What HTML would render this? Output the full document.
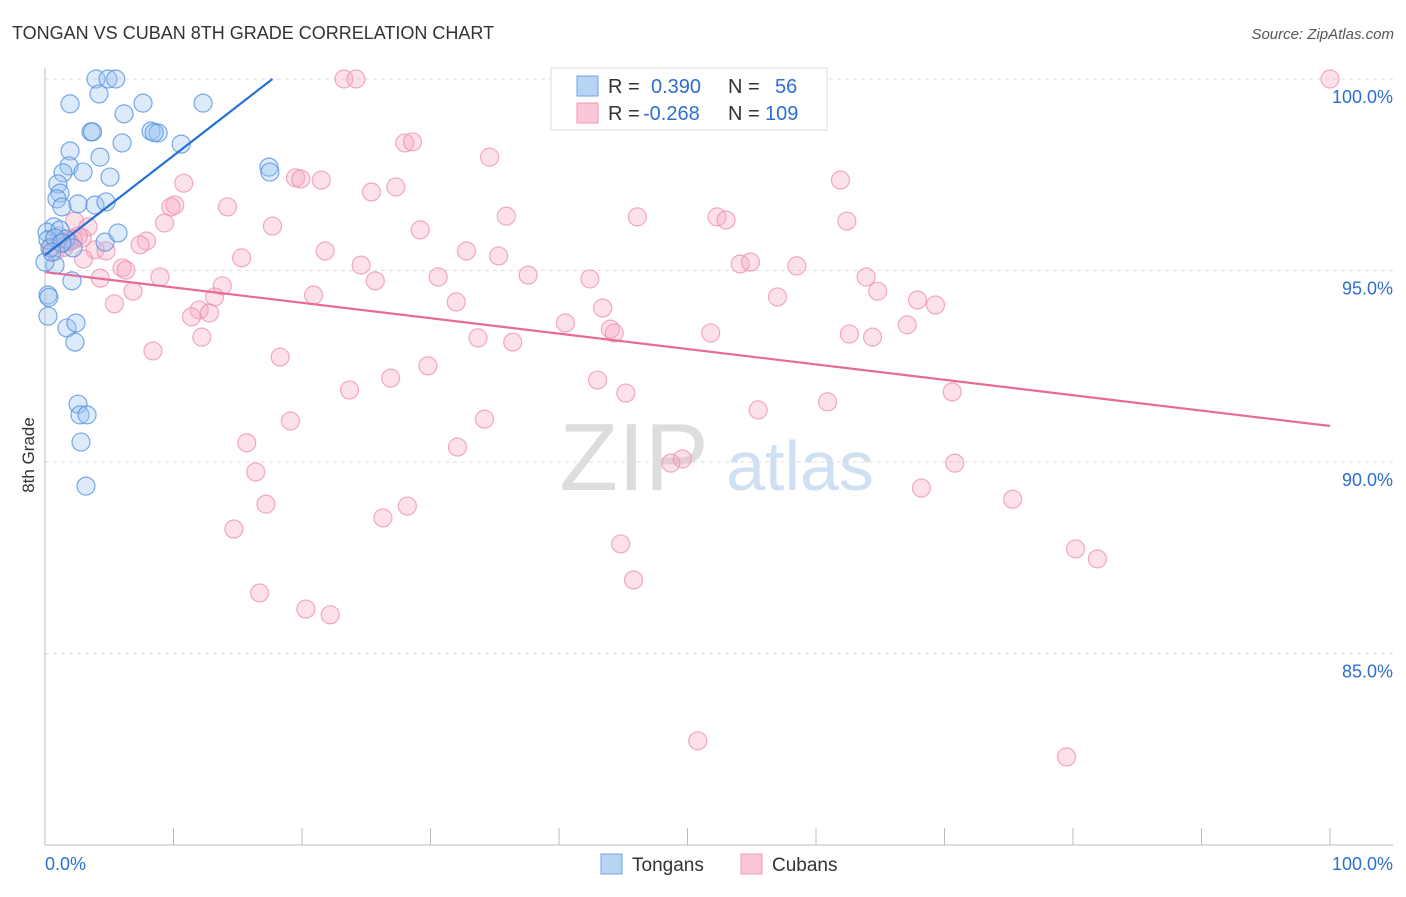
<!DOCTYPE html>
<html><head><meta charset="utf-8"><style>
body{margin:0;background:#fff;font-family:"Liberation Sans",sans-serif;}
svg text{font-family:"Liberation Sans",sans-serif;}
</style></head><body>
<svg id="chart" width="1406" height="892">
<text x="12" y="39" font-size="18" fill="#333">TONGAN VS CUBAN 8TH GRADE CORRELATION CHART</text>
<text x="1394" y="39" font-size="15" fill="#555" text-anchor="end" font-style="italic">Source: ZipAtlas.com</text>
<text x="634" y="490" font-size="96" fill="#ddd" font-family="Liberation Serif" text-anchor="middle">ZIP</text>
<text x="800" y="490" font-size="70" fill="#cfe0f3" text-anchor="middle">atlas</text>
<g id="grid"></g><g id="axes"></g><g id="pts"></g><g id="lines"></g>
<text transform="translate(34,455) rotate(-90)" font-size="17" fill="#333" text-anchor="middle">8th Grade</text>
<g>
<rect x="551" y="68" width="276" height="62" fill="#fff" stroke="#ddd"/>
<rect x="577" y="76" width="21" height="20" fill="#b8d4f5" stroke="#6fa3e0"/>
<rect x="577" y="103" width="21" height="20" fill="#fcc6d6" stroke="#ee9ab4"/>
<text x="608" y="93" font-size="20" fill="#333">R = </text><text x="651" y="93" font-size="20" fill="#2d6fcf">0.390</text>
<text x="728" y="93" font-size="20" fill="#333">N = </text><text x="775" y="93" font-size="20" fill="#2d6fcf">56</text>
<text x="608" y="120" font-size="20" fill="#333">R = </text><text x="643" y="120" font-size="20" fill="#2d6fcf">-0.268</text>
<text x="728" y="120" font-size="20" fill="#333">N = </text><text x="765" y="120" font-size="20" fill="#2d6fcf">109</text>
</g>
<g>
<rect x="601" y="854" width="21" height="20" fill="#b8d4f5" stroke="#6fa3e0"/>
<text x="632" y="871" font-size="19" fill="#333">Tongans</text>
<rect x="741" y="854" width="21" height="20" fill="#fcc6d6" stroke="#ee9ab4"/>
<text x="772" y="871" font-size="19" fill="#333">Cubans</text>
</g>
</svg>
<script>
const yTicks=[100,95,90,85];
const yTickLabels=["100.0%","95.0%","90.0%","85.0%"];
const xTickLabels=["0.0%","100.0%"];
const tonganX=[3.97,4.9,5.5,4.2,1.95,7.63,12.3,6.15,3.58,8.25,8.8,6.0,10.6,1.95,4.28,1.87,2.96,1.4,5.06,17.43,17.5,1.0,1.17,0.93,1.32,2.57,3.89,4.75,0.7,0.16,1.17,0.23,1.63,4.67,5.68,2.18,0.39,0.78,2.1,0.23,0.23,1.71,2.41,2.33,2.57,2.72,3.27,2.8,3.19,0.78,1.32,0,0.54,3.7,8.5,0.3];
const tonganY=[100,100,100,99.61,99.35,99.37,99.37,99.09,98.62,98.64,98.59,98.33,98.3,98.12,97.96,97.73,97.57,97.55,97.44,97.7,97.57,97.26,97.02,96.87,96.66,96.74,96.71,96.79,96.14,96.0,96.06,95.8,95.82,95.74,95.98,95.59,95.59,95.14,94.73,94.36,93.81,93.5,93.63,93.13,91.51,91.23,91.23,90.52,89.37,95.85,95.72,95.22,95.48,98.62,98.6,94.3];
const cubanX=[100,23.27,24.2,28.0,28.6,34.6,10.8,19.5,19.9,21.5,25.4,27.3,61.9,10.1,9.8,14.2,9.3,17.7,29.2,35.9,46.1,52.3,53.0,62.4,2.3,3.35,1.1,1.8,2.9,7.9,7.4,3.9,4.75,21.8,32.8,35.3,15.3,24.6,54.1,54.9,58.5,6.0,6.3,8.95,25.7,30.6,37.6,42.4,63.9,4.3,6.85,13.8,13.2,20.9,32.0,43.4,57.0,64.8,67.9,69.3,5.4,12.0,11.4,12.8,40.5,44.0,44.3,67.1,12.2,33.7,36.4,51.8,62.6,64.4,8.4,18.3,29.8,26.9,43.0,23.7,45.2,70.6,60.9,55.5,19.1,34.2,15.7,32.1,48.7,49.6,70.8,16.4,68.2,75.3,17.2,28.2,26.3,14.7,44.8,80.2,81.9,45.8,16.7,20.3,22.2,50.8,79.5,1.5,2.6,0.8,1.3,3.0,2.2,0.5,1.9];
const cubanY=[100,100,100,98.33,98.36,97.96,97.28,97.42,97.39,97.36,97.05,97.18,97.36,96.71,96.66,96.66,96.24,96.16,96.06,96.42,96.4,96.4,96.32,96.29,96.29,96.14,95.9,95.77,95.85,95.77,95.67,95.54,95.51,95.51,95.51,95.38,95.33,95.14,95.17,95.22,95.12,95.07,95.01,94.83,94.73,94.83,94.88,94.78,94.83,94.8,94.46,94.6,94.31,94.36,94.18,94.02,94.31,94.46,94.23,94.1,94.13,93.97,93.79,93.89,93.63,93.47,93.37,93.58,93.26,93.24,93.13,93.37,93.34,93.26,92.9,92.74,92.51,92.19,92.14,91.88,91.8,91.83,91.57,91.36,91.07,91.12,90.5,90.39,89.97,90.08,89.97,89.74,89.32,89.03,88.9,88.85,88.54,88.25,87.86,87.73,87.47,86.92,86.58,86.16,86.01,82.72,82.3,95.6,95.9,95.5,95.7,95.3,95.8,95.6,95.75];
const tonganTrend=[[0,95.4],[17.7,100]];
const cubanTrend=[[0,94.96],[100,90.94]];
const X=v=>45+v*12.85, Y=v=>79+(100-v)*38.3;
const NS="http://www.w3.org/2000/svg";
function mk(t,a,p){const e=document.createElementNS(NS,t);for(const k in a)e.setAttribute(k,a[k]);document.getElementById(p).appendChild(e);return e;}
yTicks.forEach((t,i)=>{
 const g=mk('line',{x1:45,x2:1393,y1:Y(t),y2:Y(t),stroke:'#ddd','stroke-dasharray':'4,4'},'grid');
 
 
 const l=mk('text',{x:1393,y:Y(t)+24,'font-size':18,fill:'#2d6fcf','text-anchor':'end'},'grid');
 l.textContent=yTickLabels[i];
 
 
});
const ax=mk('line',{x1:45,x2:1393,y1:845,y2:845,stroke:'#bbb'},'axes');


const ay=mk('line',{x1:45,x2:45,y1:68,y2:845,stroke:'#bbb'},'axes');


for(let i=1;i<=10;i++){
 const t=mk('line',{x1:X(i*10),x2:X(i*10),y1:828,y2:845,stroke:'#bbb'},'axes');
 
 
}
[[0,'start'],[100,'end']].forEach((p,i)=>{
 const l=mk('text',{x:p[0]==0?45:1393,y:870,'font-size':18,fill:'#2d6fcf','text-anchor':p[1]},'axes');
 l.textContent=xTickLabels[i];
 
 
});
function pts(xs,ys,fill,stroke,name){xs.forEach((x,i)=>{
 const c=mk('circle',{cx:X(x),cy:Y(ys[i]),r:9,fill:fill,'fill-opacity':0.35,stroke:stroke,'stroke-opacity':0.75,'stroke-width':1.2},'pts');
 
 
});}
pts(cubanX,cubanY,'#f7a8c0','#ee8fae','cuban-point');
pts(tonganX,tonganY,'#9cc4f0','#4d8ee0','tongan-point');
const t1=mk('line',{x1:X(tonganTrend[0][0]),y1:Y(tonganTrend[0][1]),x2:X(tonganTrend[1][0]),y2:Y(tonganTrend[1][1]),stroke:'#2470d6','stroke-width':2.2},'lines');


const t2=mk('line',{x1:X(cubanTrend[0][0]),y1:Y(cubanTrend[0][1]),x2:X(cubanTrend[1][0]),y2:Y(cubanTrend[1][1]),stroke:'#e8699a','stroke-width':2.2},'lines');


</script>
</body></html>
